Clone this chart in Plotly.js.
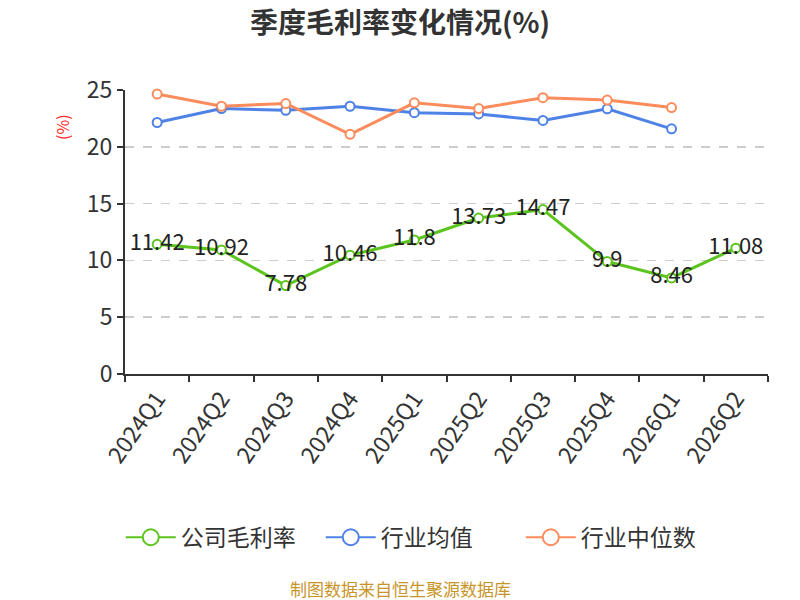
<!DOCTYPE html>
<html>
<head>
<meta charset="utf-8">
<script src="https://cdn.plot.ly/plotly-3.0.1.min.js"></script>
<style>
  html, body { margin: 0; padding: 0; background: #fff; }
  #myDiv { width: 800px; height: 600px; }
</style>
</head>
<body>
<div id="myDiv"></div>
<script>
var quarters = ['2024Q1', '2024Q2', '2024Q3', '2024Q4', '2025Q1', '2025Q2', '2025Q3', '2025Q4', '2026Q1', '2026Q2'];
var companyMargin = [11.42, 10.92, 7.78, 10.46, 11.8, 13.73, 14.47, 9.9, 8.46, 11.08];
var industryAvg = [22.14, 23.37, 23.21, 23.57, 23.0, 22.89, 22.32, 23.34, 21.58];
var industryMedian = [24.64, 23.57, 23.81, 21.1, 23.87, 23.37, 24.32, 24.11, 23.45];

var font = '"Noto Sans CJK SC", "Noto Sans", sans-serif';

function series(name, y, color, withText) {
  var t = {
    x: quarters.slice(0, y.length),
    y: y,
    name: name,
    type: 'scatter',
    mode: withText ? 'lines+markers+text' : 'lines+markers',
    line: {color: color, width: 3},
    marker: {size: 9, color: '#ffffff', line: {color: color, width: 2}},
    cliponaxis: false,
    showlegend: false,
    hoverinfo: 'x+y'
  };
  if (withText) {
    t.text = y.map(String);
    t.textposition = 'middle center';
    t.textfont = {family: font, size: 22, color: '#222'};
  }
  return t;
}

// legend-only entries, so the legend symbol can be larger than the plot markers
function legendEntry(name, color, rank) {
  return {
    x: [null], y: [null],
    name: name,
    type: 'scatter',
    mode: 'lines+markers',
    line: {color: color, width: 2},
    marker: {size: 16, color: '#ffffff', line: {color: color, width: 2}},
    legendrank: rank,
    hoverinfo: 'skip'
  };
}

var colors = {company: '#5cc41e', avg: '#4f82e6', median: '#fc8c5c'};

var data = [
  series('行业均值', industryAvg, colors.avg, false),
  series('行业中位数', industryMedian, colors.median, false),
  series('公司毛利率', companyMargin, colors.company, true),
  legendEntry('公司毛利率', colors.company, 1),
  legendEntry('行业均值', colors.avg, 2),
  legendEntry('行业中位数', colors.median, 3)
];

var layout = {
  width: 800,
  height: 600,
  paper_bgcolor: '#ffffff',
  plot_bgcolor: '#ffffff',
  font: {family: font, color: '#333'},
  title: {
    text: '<b>季度毛利率变化情况(%)</b>',
    font: {family: font, size: 28, color: '#333'},
    x: 0.5,
    xanchor: 'center',
    y: 0.962,
    yanchor: 'middle'
  },
  margin: {l: 125, r: 32, t: 90, b: 226},
  showlegend: true,
  legend: {
    orientation: 'h',
    x: 0.46,
    xanchor: 'center',
    y: -0.575,
    yanchor: 'middle',
    font: {family: font, size: 23, color: '#333'},
    traceorder: 'normal',
    itemwidth: 50,
    entrywidth: 135
  },
  xaxis: {
    type: 'category',
    categoryorder: 'array',
    categoryarray: quarters,
    range: [-0.5, 9.5],
    tickson: 'boundaries',
    ticks: 'outside',
    ticklen: 6,
    tickwidth: 2,
    tickcolor: '#333',
    showline: true,
    linecolor: '#333',
    linewidth: 2,
    showgrid: false,
    tickangle: -55,
    tickfont: {family: font, size: 23, color: '#333'},
    fixedrange: true
  },
  yaxis: {
    range: [0, 25],
    tickvals: [0, 5, 10, 15, 20, 25],
    ticks: 'outside',
    ticklen: 6,
    tickwidth: 2,
    tickcolor: '#333',
    showline: true,
    linecolor: '#333',
    linewidth: 2,
    showgrid: true,
    gridcolor: '#cccccc',
    griddash: 'dash',
    gridwidth: 1.5,
    zeroline: false,
    tickfont: {family: font, size: 23, color: '#333'},
    fixedrange: true
  },
  annotations: [
    {
      text: '(%)',
      xref: 'paper', yref: 'paper',
      x: -0.098, y: 0.87,
      xanchor: 'center', yanchor: 'middle',
      textangle: -90,
      showarrow: false,
      font: {family: font, size: 16, color: '#ff2a2a'}
    },
    {
      text: '制图数据来自恒生聚源数据库',
      xref: 'paper', yref: 'paper',
      x: 0.428, y: -0.755,
      xanchor: 'center', yanchor: 'middle',
      showarrow: false,
      font: {family: font, size: 17, color: '#c8952a'}
    }
  ]
};

Plotly.newPlot('myDiv', data, layout, {displayModeBar: false, staticPlot: true});
</script>
</body>
</html>
